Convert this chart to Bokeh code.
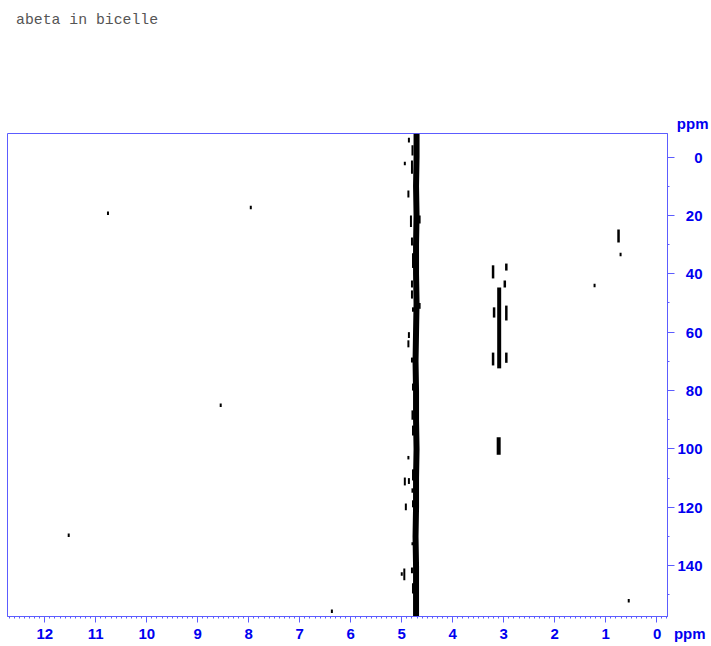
from bokeh.plotting import figure
from bokeh.models import Range1d, LinearAxis, FixedTicker, Title, Div
from bokeh.layouts import column
from bokeh.embed import file_html
from bokeh.resources import INLINE

# ---- spectrum data (F2 ppm, F1 ppm) ----
# solvent ridge centre line
water_y = [-8, 0, 10, 20, 30, 40, 50, 60, 70, 80, 90, 100, 110, 120, 130, 140, 150, 157.4]
water_ppm = [4.71, 4.71, 4.72, 4.71, 4.72, 4.72, 4.71, 4.72, 4.73, 4.72, 4.72, 4.71, 4.72, 4.72, 4.73, 4.72, 4.72, 4.72]

# contour fragments flanking the solvent ridge
side_ppm = [4.86, 4.79, 4.80, 4.87, 4.82, 4.65, 4.80, 4.78, 4.80, 4.80, 4.78, 4.65, 4.86, 4.87,
            4.76, 4.80, 4.78, 4.79, 4.78, 4.94, 4.86, 4.78, 4.79, 4.92, 4.78, 4.79, 4.95, 4.80, 4.78]
side_y0 = [-6.6, -4.0, 1.2, 11.5, 20.0, 20.0, 27.6, 33.0, 42.3, 45.7, 51.5, 50.0, 60.0, 62.8,
           65.0, 68.7, 77.6, 86.8, 92.0, 109.8, 110.0, 107.0, 113.5, 118.7, 117.6, 132.0, 141.0, 140.6, 146.0]
side_y1 = [-5.0, -0.5, 5.7, 13.9, 24.0, 22.8, 30.3, 38.0, 44.7, 48.5, 53.0, 52.0, 62.0, 65.2,
           68.7, 70.4, 80.0, 90.0, 95.4, 112.5, 112.0, 110.8, 115.0, 121.0, 120.0, 133.0, 145.0, 142.6, 149.5]

# cross-peak cluster near 3.1 ppm and the methyl region
grp_ppm = [3.21, 2.95, 2.98, 3.19, 2.95, 3.21, 2.95, 0.75]
grp_y0 = [37.1, 36.5, 42.3, 51.5, 50.9, 67.0, 67.0, 24.8]
grp_y1 = [41.6, 38.9, 44.7, 55.0, 56.0, 71.4, 70.5, 29.3]

band_ppm = [3.09, 3.10]
band_y0 = [44.7, 96.0]
band_y1 = [72.4, 102.0]

# isolated weak peaks
dot_ppm = [10.76, 7.96, 8.55, 11.53, 6.37, 1.22, 0.71, 0.55, 4.94, 4.87, 5.00]
dot_y = [19.3, 17.3, 85.0, 129.6, 155.6, 44.0, 33.4, 152.0, 2.2, 103.0, 142.8]

x_ticks = list(range(0, 13))
y_ticks = [0, 20, 40, 60, 80, 100, 120, 140]

BLUE_LINE = "#5c5cff"
BLUE_TEXT = "#0000f0"
LABEL_FONT = "Liberation Sans"

header = Div(text="abeta in bicelle", width=711, height=40, margin=0,
             styles={"font-family": "'Liberation Mono', monospace", "font-size": "14.8px",
                     "color": "#555555", "padding-left": "16px", "padding-top": "10px",
                     "box-sizing": "border-box", "white-space": "pre"})

p = figure(frame_width=660, frame_height=483,
           x_range=Range1d(12.73, -0.21), y_range=Range1d(157.4, -8.05),
           output_backend="svg", toolbar_location=None,
           min_border_left=7, min_border_top=93, min_border_right=44, min_border_bottom=30,
           x_axis_location="below", y_axis_location=None)
p.background_fill_color = "white"
p.border_fill_color = "white"
p.outline_line_color = BLUE_LINE
p.outline_line_width = 1
p.grid.visible = False

# bottom F2 axis; the unit sits on the same line as the "0" label
xa = p.xaxis[0]
xa.ticker = FixedTicker(ticks=x_ticks, minor_ticks=[i / 10 for i in range(-2, 128)])
xa.major_label_overrides = {0: "\u2003\u2003\u20030\u2002\u2004ppm"}
xa.axis_line_color = BLUE_LINE
xa.major_tick_line_color = BLUE_LINE
xa.minor_tick_line_color = BLUE_LINE
xa.major_tick_out = 6
xa.major_tick_in = 0
xa.minor_tick_out = 2
xa.minor_tick_in = 0
xa.major_label_text_color = BLUE_TEXT
xa.major_label_text_font = LABEL_FONT
xa.major_label_text_font_style = "bold"
xa.major_label_text_font_size = "15px"
xa.major_label_standoff = 2

# right F1 axis, labels padded with figure spaces so they line up on the right
ya = LinearAxis(ticker=FixedTicker(ticks=y_ticks, minor_ticks=list(range(-10, 160, 10))))
ya.major_label_overrides = {t: str(t).rjust(3, "\u2007") for t in y_ticks}
ya.axis_line_color = BLUE_LINE
ya.major_tick_line_color = BLUE_LINE
ya.minor_tick_line_color = BLUE_LINE
ya.major_tick_out = 7
ya.major_tick_in = 0
ya.minor_tick_out = 2
ya.minor_tick_in = 0
ya.major_label_text_color = BLUE_TEXT
ya.major_label_text_font = LABEL_FONT
ya.major_label_text_font_style = "bold"
ya.major_label_text_font_size = "15px"
ya.major_label_standoff = 3
p.add_layout(ya, "right")

# unit of the F1 axis, above its top end
p.add_layout(Title(text="ppm", align="right", offset=-41, standoff=4, vertical_align="bottom",
                   text_color=BLUE_TEXT, text_font=LABEL_FONT, text_font_style="bold",
                   text_font_size="15px"), "above")

# spectrum contours
p.line(water_ppm, water_y, line_color="black", line_width=6)
p.segment(x0=side_ppm, y0=side_y0, x1=side_ppm, y1=side_y1, line_color="black", line_width=2)
p.segment(x0=grp_ppm, y0=grp_y0, x1=grp_ppm, y1=grp_y1, line_color="black", line_width=2.5)
p.segment(x0=band_ppm, y0=band_y0, x1=band_ppm, y1=band_y1, line_color="black", line_width=4)
p.segment(x0=dot_ppm, y0=[v - 0.6 for v in dot_y], x1=dot_ppm, y1=[v + 0.6 for v in dot_y],
          line_color="black", line_width=2)

layout = column(header, p, spacing=0)
open("out.html", "w").write(file_html(layout, INLINE))
